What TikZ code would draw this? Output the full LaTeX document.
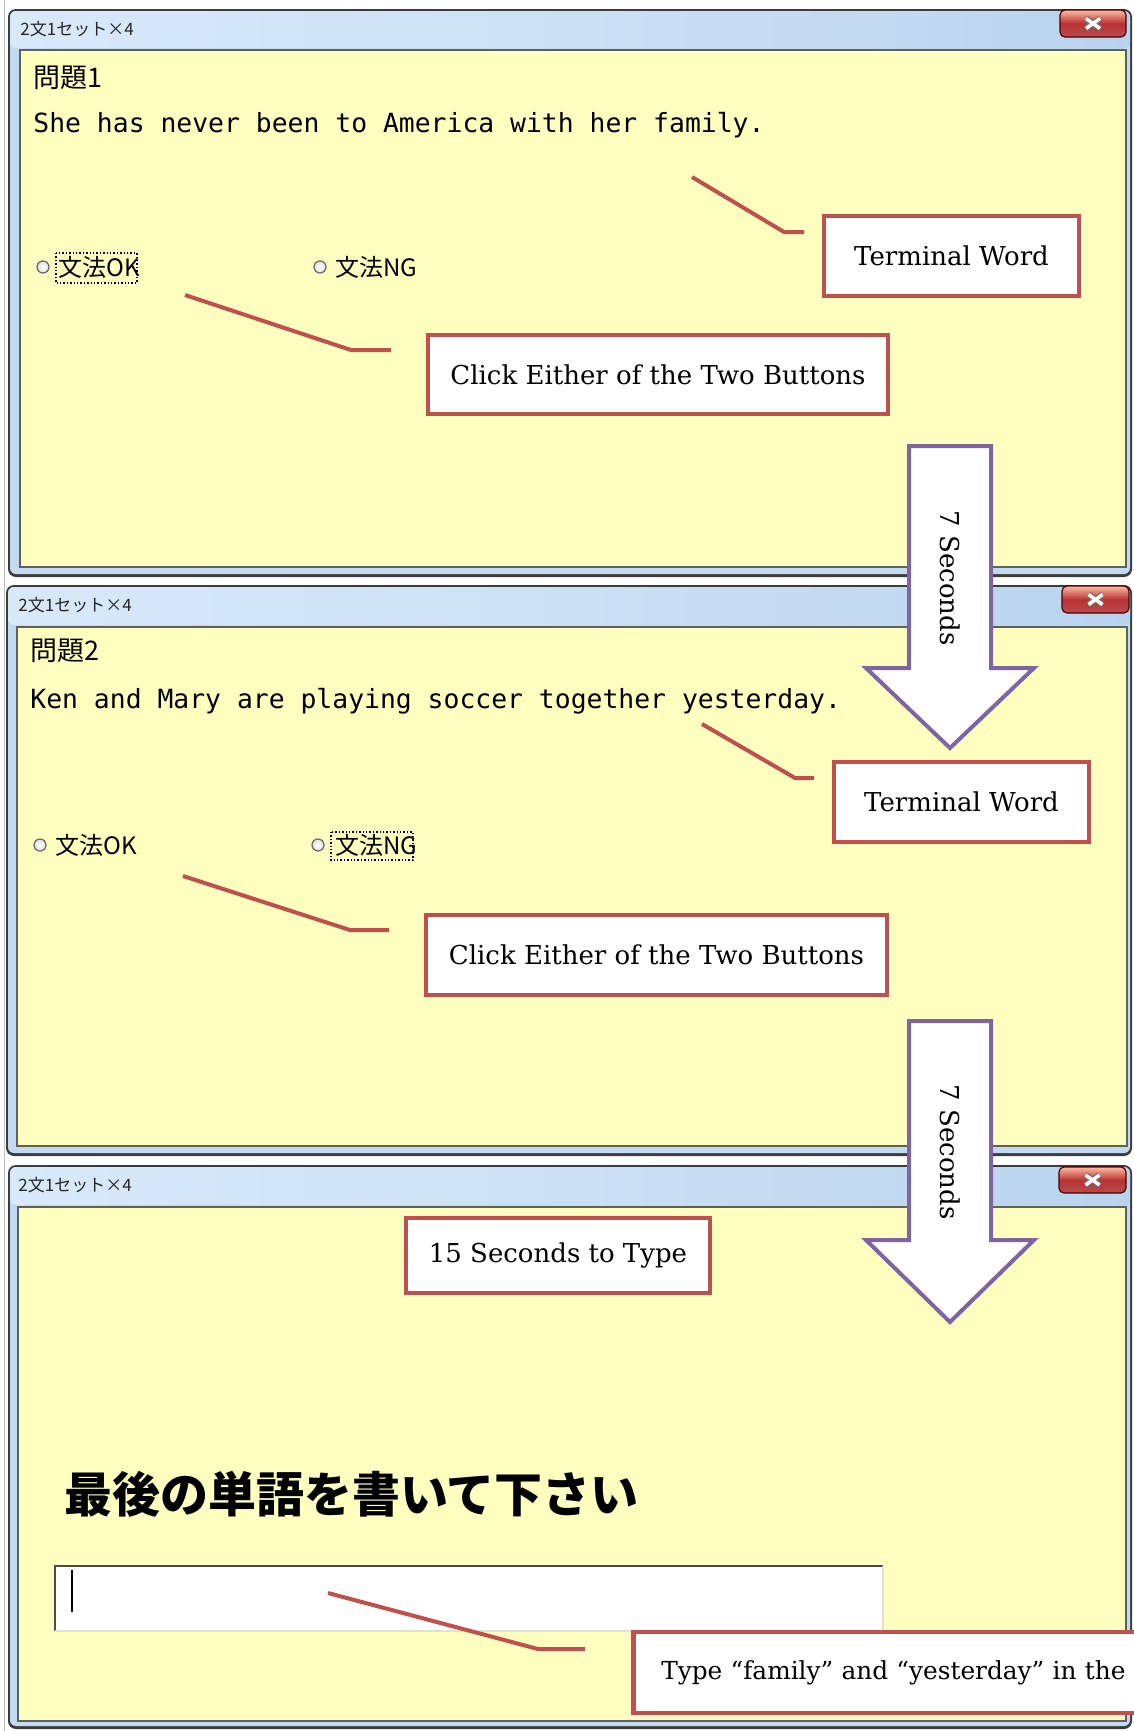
\documentclass[tikz,border=0pt]{standalone}
\usepackage{fontspec}
\newfontfamily\cjk{Noto Sans CJK JP}
\newfontfamily\monofont{DejaVu Sans Mono}
\newfontfamily\boxfont{DejaVu Serif}
\usetikzlibrary{calc}

\definecolor{clientyellow}{HTML}{FFFFC0}
\definecolor{boxred}{HTML}{C0504D}
\definecolor{arrowpurple}{HTML}{8064A2}
\definecolor{framedark}{HTML}{3C3C3C}
\definecolor{frameblue}{HTML}{C2D9F0}
\definecolor{titlelight}{HTML}{D8E9FA}
\definecolor{titledark}{HTML}{B9D3EE}

\tikzset{
  callbox/.style={draw=boxred, line width=2.25pt, fill=white,
    font=\boxfont\fontsize{13pt}{16pt}\selectfont, inner sep=0pt, align=center},
  callline/.style={draw=boxred, line width=2pt},
  bigarrow/.style={draw=arrowpurple, line width=2pt, fill=white, line join=miter},
  arrowtext/.style={font=\boxfont\fontsize{13pt}{16pt}\selectfont, rotate=-90, inner sep=0pt},
  sentence/.style={font=\monofont\fontsize{13.2pt}{15pt}\selectfont, anchor=base west, inner sep=0pt},
  qtitle/.style={font=\cjk\fontsize{13.5pt}{16pt}\selectfont, anchor=base west, inner sep=0pt},
  wintitle/.style={font=\cjk\fontsize{8.5pt}{10pt}\selectfont, text=black!85, anchor=base west, inner sep=0pt},
  radiolabel/.style={font=\cjk\fontsize{12pt}{14pt}\selectfont, anchor=base west, inner sep=0pt},
  radiocirc/.style={circle, draw=gray!80!black, inner color=white, outer color=gray!25, inner sep=0pt, minimum size=6pt, line width=0.6pt},
  focusrect/.style={draw=black, densely dotted, line width=0.7pt},
}

% window frame: outer x1 y1 x2 y2, client x1 y1 x2 y2
\newcommand\drawwin[8]{%
  \fill[framedark, rounded corners=4pt] (#1,#2) rectangle (#3,#4);
  \fill[frameblue, rounded corners=3pt] (#1+2,#2+2) rectangle (#3-2,#4-3);
  \shade[left color=titlelight, right color=titledark, middle color=titlelight!60!titledark, rounded corners=3pt]
     (#1+2,#2+2) rectangle (#3-2,#6-2);
  \fill[clientyellow, draw=gray!75!black, line width=0.6pt] (#5,#6) rectangle (#7,#8);
}
% close button x1 y1 x2 y2
\newcommand\closebtn[4]{%
  \shade[top color=red!20!white!80!orange, bottom color=red!60!black!70!white, middle color=red!65!black!80!white,
     draw=red!30!black, line width=0.6pt, rounded corners=2.5pt] (#1,#2) rectangle (#3,#4);
  \coordinate (cbc) at ($(#1,#2)!0.5!(#3,#4)$);
  \draw[line width=3pt, black!55] ($(cbc)+(-7,-5)$) -- ($(cbc)+(7,5)$) ($(cbc)+(-7,5)$) -- ($(cbc)+(7,-5)$);
  \draw[line width=1.7pt, white] ($(cbc)+(-7,-5)$) -- ($(cbc)+(7,5)$) ($(cbc)+(-7,5)$) -- ($(cbc)+(7,-5)$);
}

\begin{document}
\begin{tikzpicture}[x=0.5pt,y=-0.5pt]
\useasboundingbox (0,0) rectangle (1134,1731);
\clip (0,0) rectangle (1134,1731);
\fill[white] (0,0) rectangle (1134,1731);
\draw[gray!50, line width=0.5pt] (4,0) -- (4,1731);

% ---------------- window 1 ----------------
\drawwin{8}{9}{1132}{577}{20}{50}{1126}{567}
\closebtn{1060}{10}{1126}{37}
\node[wintitle] (w1title) at (20,35) {2文1セット×4};
\node[qtitle] (q1) at (33,87) {問題1};
\node[sentence] (s1) at (33,132) {She has never been to America with her family.};
\node[radiocirc] (r1ok) at (43,267) {};
\node[radiolabel] (l1ok) at (58,276) {文法OK};
\node[radiocirc] (r1ng) at (320,267) {};
\node[radiolabel] (l1ng) at (335,276) {文法NG};
\draw[focusrect] (56,253) rectangle (137,283);

% ---------------- window 2 ----------------
\drawwin{6}{585}{1132}{1156}{17}{627}{1127}{1146}
\closebtn{1062}{586}{1129}{613}
\node[wintitle] (w2title) at (18,611) {2文1セット×4};
\node[qtitle] (q2) at (30,660) {問題2};
\node[sentence] (s2) at (30,708) {Ken and Mary are playing soccer together yesterday.};
\node[radiocirc] (r2ok) at (40,845) {};
\node[radiolabel] (l2ok) at (55,854) {文法OK};
\node[radiocirc] (r2ng) at (318,845) {};
\node[radiolabel] (l2ng) at (335,854) {文法NG};
\draw[focusrect] (331,832) rectangle (413,860);

% ---------------- window 3 ----------------
\drawwin{8}{1165}{1132}{1729}{18}{1207}{1126}{1721}
\closebtn{1059}{1167}{1126}{1193}
\node[wintitle] (w3title) at (18,1191) {2文1セット×4};
\node[font=\cjk\bfseries\fontsize{24pt}{28pt}\selectfont, anchor=base west, inner sep=0pt] (prompt) at (64,1512) {最後の単語を書いて下さい};
\fill[white] (55,1566) rectangle (883,1631);
\draw[gray!60!black, line width=1pt] (55,1631) -- (55,1566) -- (883,1566);
\draw[gray!25, line width=1pt] (883,1566) -- (883,1631) -- (55,1631);
\draw[black, line width=0.6pt] (72,1570) -- (72,1612);

% ---------------- callouts ----------------
\coordinate (c1a) at (692,177); \coordinate (c1b) at (784,232); \coordinate (c1c) at (804,232);
\draw[callline] (c1a) -- (c1b) -- (c1c);
\node[callbox, minimum width=127.5pt, minimum height=40pt] (term1) at (951.5,256) {Terminal Word};

\coordinate (c2a) at (185,295); \coordinate (c2b) at (351,350); \coordinate (c2c) at (391,350);
\draw[callline] (c2a) -- (c2b) -- (c2c);
\node[callbox, minimum width=230pt, minimum height=39.5pt] (click1) at (658,374.5) {Click Either of the Two Buttons};

\coordinate (c3a) at (702,724); \coordinate (c3b) at (795,778); \coordinate (c3c) at (814,778);
\draw[callline] (c3a) -- (c3b) -- (c3c);
\node[callbox, minimum width=127.5pt, minimum height=40pt] (term2) at (961.5,802) {Terminal Word};

\coordinate (c4a) at (183,876); \coordinate (c4b) at (350,930); \coordinate (c4c) at (389,930);
\draw[callline] (c4a) -- (c4b) -- (c4c);
\node[callbox, minimum width=230.5pt, minimum height=40pt] (click2) at (656.5,955) {Click Either of the Two Buttons};

\node[callbox, minimum width=152pt, minimum height=37.5pt] (fifteen) at (558,1255.5) {15 Seconds to Type};

\coordinate (c5a) at (328,1593); \coordinate (c5b) at (538,1649); \coordinate (c5c) at (585,1649);
\draw[callline] (c5a) -- (c5b) -- (c5c);
\node[callbox, anchor=west, minimum height=40.5pt, text width=280pt, inner xsep=14pt, align=left,
      font=\boxfont\fontsize{12.4pt}{16pt}\selectfont] (typebox) at (631,1672.5) {Type “family” and “yesterday” in the};

% ---------------- arrows ----------------
\draw[bigarrow] (909,446) -- (991,446) -- (991,668) -- (1034,668) -- (950,748) -- (866,668) -- (909,668) -- cycle;
\node[arrowtext] (sec1) at (950,578) {7 Seconds};
\draw[bigarrow] (909,1021) -- (991,1021) -- (991,1240) -- (1034,1240) -- (950,1322) -- (866,1240) -- (909,1240) -- cycle;
\node[arrowtext] (sec2) at (950,1152) {7 Seconds};
\end{tikzpicture}
\end{document}
